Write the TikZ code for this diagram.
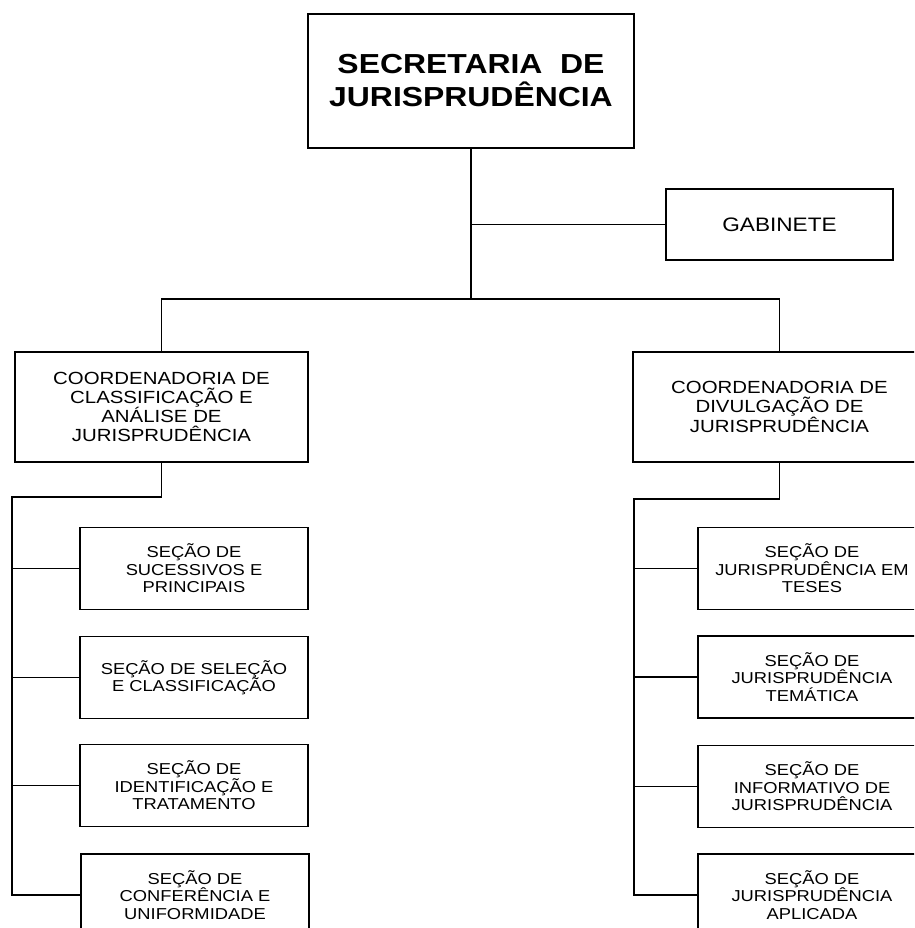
\documentclass[tikz,border=0pt]{standalone}
\usepackage{fontspec}
\setmainfont{Liberation Sans}[FakeStretch=1.16]
\usepackage{tikz}
\usetikzlibrary{positioning, calc}

\tikzset{
  orgbox/.style={draw, line width=1.5pt, align=center, inner sep=2pt},
  headbox/.style={orgbox, minimum width=326, minimum height=134, font=\fontsize{27.5}{33}\selectfont\bfseries},
  gabbox/.style={orgbox, minimum width=227, minimum height=71, font=\fontsize{19.5}{22}\selectfont},
  coordbox/.style={orgbox, minimum width=293, minimum height=110, font=\fontsize{17.6}{19}\selectfont},
  secbox/.style={orgbox, minimum width=228, minimum height=82, font=\fontsize{15.8}{17.5}\selectfont},
  link/.style={line width=1.4pt}
}

\begin{document}
\begin{tikzpicture}[x=1pt, y=-1pt]
  \useasboundingbox (0,0) rectangle (914,928);
  \clip (0,0) rectangle (914,928);

  % Secretaria and gabinete
  \node[headbox] (sec) at (471, 81) {SECRETARIA\ \ DE\\JURISPRUD\^ENCIA};
  \node[gabbox] (gab) at (779.5, 224.5) {GABINETE};

  % Coordenadorias
  \node[coordbox] (coordA) at (161.5, 407) {COORDENADORIA DE\\CLASSIFICA\c{C}\~AO E\\AN\'ALISE DE\\JURISPRUD\^ENCIA};
  \node[coordbox] (coordB) at (779.5, 407) {COORDENADORIA DE\\DIVULGA\c{C}\~AO DE\\JURISPRUD\^ENCIA};

  % Left sections
  \node[secbox] (secA1) at (194, 568.5) {SE\c{C}\~AO DE\\SUCESSIVOS E\\PRINCIPAIS};
  \node[secbox] (secA2) at (194, 677.5) {SE\c{C}\~AO DE SELE\c{C}\~AO\\E CLASSIFICA\c{C}\~AO};
  \node[secbox] (secA3) at (194, 785.5) {SE\c{C}\~AO DE\\IDENTIFICA\c{C}\~AO E\\TRATAMENTO};
  \node[secbox] (secA4) at (195, 895) {SE\c{C}\~AO DE\\CONFER\^ENCIA E\\UNIFORMIDADE};

  % Right sections
  \node[secbox] (secB1) at (812, 568.5) {SE\c{C}\~AO DE\\JURISPRUD\^ENCIA EM\\TESES};
  \node[secbox] (secB2) at (812, 677) {SE\c{C}\~AO DE\\JURISPRUD\^ENCIA\\TEM\'ATICA};
  \node[secbox] (secB3) at (812, 786.5) {SE\c{C}\~AO DE\\INFORMATIVO DE\\JURISPRUD\^ENCIA};
  \node[secbox] (secB4) at (812, 895) {SE\c{C}\~AO DE\\JURISPRUD\^ENCIA\\APLICADA};

  % Connectors
  \coordinate (bar) at (471, 299);
  \coordinate (spineA) at (12, 497);
  \coordinate (spineB) at (634, 499);

  \draw[link] (sec.south) -- (bar);
  \draw[link] (gab.west) -- (gab.west -| sec.south);
  \draw[link] (coordA.north) |- (bar) -| (coordB.north);

  \draw[link] (coordA.south) |- (spineA) |- (secA4.west);
  \foreach \s in {secA1, secA2, secA3}
    \draw[link] (\s.west) -- (\s.west -| spineA);

  \draw[link] (coordB.south) |- (spineB) |- (secB4.west);
  \foreach \s in {secB1, secB2, secB3}
    \draw[link] (\s.west) -- (\s.west -| spineB);
\end{tikzpicture}
\end{document}
